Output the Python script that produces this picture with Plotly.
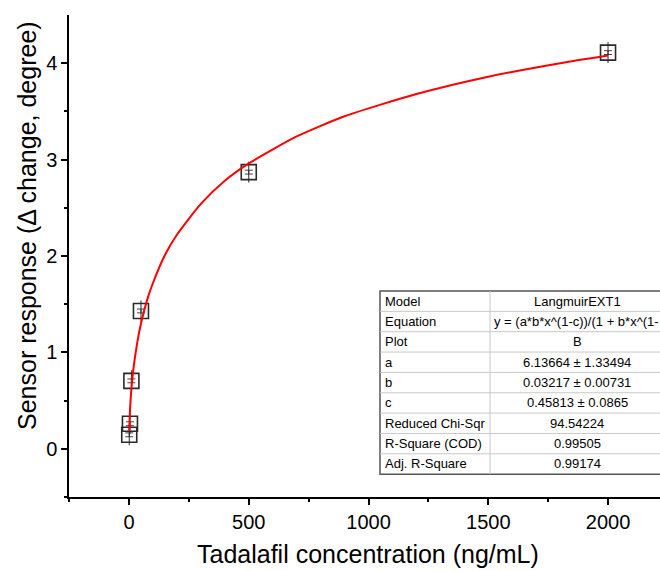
import plotly.graph_objects as go

# Measured data (concentration ng/mL, response degree)
conc = [1, 4, 10, 50, 500, 2000]
resp = [0.145, 0.26, 0.705, 1.43, 2.87, 4.11]
err = [0.02, 0.02, 0.02, 0.02, 0.02, 0.02]

# Fitted curve points
fit_x = [1, 2, 5, 10, 20, 35, 50, 75, 100, 150, 200, 300, 400, 500, 700, 900, 1200, 1500, 1800, 2000]
fit_y = [0.19, 0.27, 0.44, 0.62, 0.86, 1.11, 1.30, 1.54, 1.72, 2.01, 2.22, 2.54, 2.78, 2.96, 3.24, 3.45, 3.68, 3.86, 4.00, 4.08]

# Fit summary table (equation shown as it is visible in the picture)
table_labels = ["Model", "Equation", "Plot", "a", "b", "c", "Reduced Chi-Sqr", "R-Square (COD)", "Adj. R-Square"]
table_values = ["LangmuirEXT1", "y = (a*b*x^(1-c))/(1 + b*x^(1-", "B", "6.13664 ± 1.33494",
                "0.03217 ± 0.00731", "0.45813 ± 0.0865", "94.54224", "0.99505", "0.99174"]

x_title = "Tadalafil concentration (ng/mL)"
y_title = "Sensor response (Δ change, degree)"

W, H = 660, 571
L, R, T, B = 69, 0, 15, 74
pw, ph = W - L - R, H - T - B

def px(x):
    return (x - L) / pw

def py(y):
    return (H - B - y) / ph

FONT = "Liberation Sans, Arial, sans-serif"
fig = go.Figure()

fig.add_trace(go.Scatter(
    x=conc, y=resp, mode="markers",
    marker=dict(symbol="square-open", size=15, color="#2a2a2a", line=dict(width=1.6, color="#2a2a2a")),
    error_y=dict(type="data", array=err, visible=True, color="#444444", thickness=1, width=4),
    showlegend=False, cliponaxis=False))
fig.add_trace(go.Scatter(
    x=conc, y=resp, mode="markers",
    marker=dict(symbol="line-ns-open", size=15, color="#2a2a2a", line=dict(width=1, color="#2a2a2a")),
    showlegend=False, cliponaxis=False))
fig.add_trace(go.Scatter(
    x=fit_x, y=fit_y, mode="lines", line=dict(color="red", width=2, shape="spline", smoothing=0.6),
    showlegend=False))

# Table
shapes = []
top, rowh, left, colx, right = 291, 20.35, 380, 490, 664
n = len(table_labels)
bottom = top + n * rowh
shapes.append(dict(type="rect", xref="paper", yref="paper", x0=px(left), x1=px(right), y0=py(bottom), y1=py(top),
                   fillcolor="white", line=dict(color="#555555", width=1.5), layer="above"))
for i in range(1, n):
    yy = top + i * rowh
    shapes.append(dict(type="line", xref="paper", yref="paper", x0=px(left), x1=px(right), y0=py(yy), y1=py(yy),
                       line=dict(color="#c8c8c8", width=1), layer="above"))
shapes.append(dict(type="line", xref="paper", yref="paper", x0=px(colx), x1=px(colx), y0=py(bottom), y1=py(top),
                   line=dict(color="#c8c8c8", width=1), layer="above"))

annotations = []
for i, (lab, val) in enumerate(zip(table_labels, table_values)):
    yc = top + (i + 0.5) * rowh
    annotations.append(dict(xref="paper", yref="paper", x=px(left + 3), y=py(yc), text=lab, showarrow=False,
                            xanchor="left", yanchor="middle", font=dict(family=FONT, size=13, color="black")))
    if lab == "Equation":
        annotations.append(dict(xref="paper", yref="paper", x=px(colx + 2), y=py(yc), text=val, showarrow=False,
                                xanchor="left", yanchor="middle", font=dict(family=FONT, size=13, color="black")))
    else:
        annotations.append(dict(xref="paper", yref="paper", x=px(577), y=py(yc), text=val, showarrow=False,
                                xanchor="center", yanchor="middle", font=dict(family=FONT, size=13, color="black")))

# Axis titles
annotations.append(dict(xref="paper", yref="paper", x=px(368), y=py(554), text=x_title, showarrow=False,
                        xanchor="center", yanchor="middle", font=dict(family=FONT, size=25, color="black")))
annotations.append(dict(xref="paper", yref="paper", x=px(27), y=py(226), text=y_title, showarrow=False,
                        textangle=-90, xanchor="center", yanchor="middle", font=dict(family=FONT, size=25, color="black")))

fig.update_layout(
    width=W, height=H, margin=dict(l=L, r=R, t=T, b=B, autoexpand=False),
    plot_bgcolor="white", paper_bgcolor="white",
    font=dict(family=FONT, color="black"),
    shapes=shapes, annotations=annotations,
    xaxis=dict(range=[-250.5, 2217], tickmode="array", tickvals=[0, 500, 1000, 1500, 2000], automargin=False,
               ticks="outside", ticklen=6, tickwidth=1.5, tickcolor="black",
               showline=True, linecolor="black", linewidth=1.5, showgrid=False, zeroline=False,
               tickfont=dict(size=20),
               minor=dict(tickvals=[-250, 250, 750, 1250, 1750], ticks="outside", ticklen=3, tickwidth=1.5, tickcolor="black")),
    yaxis=dict(range=[-0.5, 4.5], tickmode="array", tickvals=[0, 1, 2, 3, 4], automargin=False,
               ticks="outside", ticklen=6, tickwidth=1.5, tickcolor="black",
               showline=True, linecolor="black", linewidth=1.5, showgrid=False, zeroline=False,
               tickfont=dict(size=20),
               minor=dict(tickvals=[-0.5, 0.5, 1.5, 2.5, 3.5], ticks="outside", ticklen=3, tickwidth=1.5, tickcolor="black")),
)

fig.write_html("out.html", config={"displayModeBar": False},
               post_script="document.body.style.margin='0';document.body.style.overflow='hidden';")
